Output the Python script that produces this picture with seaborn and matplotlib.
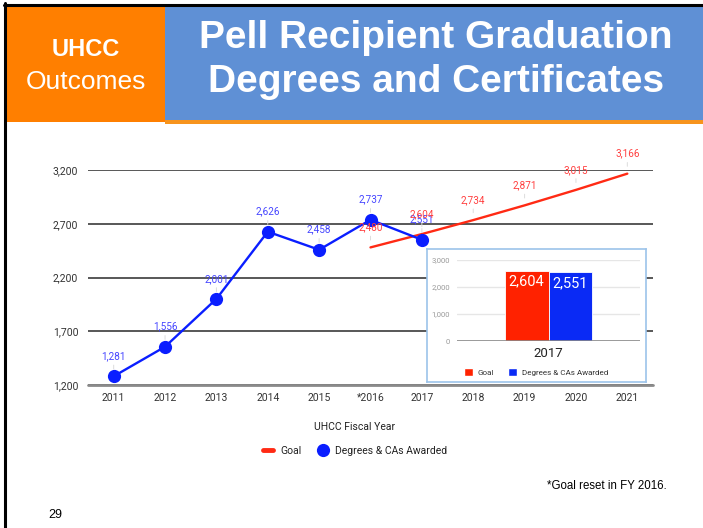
import matplotlib
matplotlib.use("Agg")
import matplotlib.pyplot as plt
import seaborn as sns
import pandas as pd
from matplotlib.lines import Line2D
from matplotlib.patches import Rectangle, Patch
from matplotlib import font_manager as fm
from matplotlib.ticker import FuncFormatter

# ---------------- data ----------------
years = ["2011", "2012", "2013", "2014", "2015", "*2016", "2017", "2018", "2019", "2020", "2021"]
awarded_years = ["2011", "2012", "2013", "2014", "2015", "*2016", "2017"]
awarded = [1281, 1556, 2001, 2626, 2458, 2737, 2551]
goal_years = ["*2016", "2017", "2018", "2019", "2020", "2021"]
goal = [2480, 2604, 2734, 2871, 3015, 3166]
y_ticks = [1200, 1700, 2200, 2700, 3200]

inset_category = "2017"
inset_series = ["Goal", "Degrees & CAs Awarded"]
inset_values = [2604, 2551]
inset_ticks = [0, 1000, 2000, 3000]

legend_labels = ["Goal", "Degrees & CAs Awarded"]

# ---------------- style ----------------
sns.set_theme(style="white")


def pick(name, fallback):
    try:
        fm.findfont(fm.FontProperties(family=name), fallback_to_default=False)
        return name
    except Exception:
        return fallback


ROBOTO = pick("Roboto", "DejaVu Sans")
ARIAL = pick("Liberation Sans", "DejaVu Sans")
NARROW = pick("Liberation Sans Narrow", ARIAL)
plt.rcParams["font.family"] = [ROBOTO, "DejaVu Sans"]

RED = "#ff2a14"
BLUE = "#0a1eff"
RED_TXT = "#ff4040"
BLUE_TXT = "#4646ff"
INSET_RED = "#ff2200"
INSET_BLUE = "#0a2af5"

W, H = 703, 528
fig = plt.figure(figsize=(W / 100, H / 100), dpi=100)
fig.patch.set_facecolor("white")


def fr(x0, y0, x1, y1):
    return [x0 / W, 1 - y1 / H, (x1 - x0) / W, (y1 - y0) / H]


def fx(x):
    return x / W


def fy(y):
    return 1 - y / H


# ---------------- header ----------------
def rect(x0, y0, x1, y1, color, z=0):
    fig.patches.append(Rectangle((fx(x0), fy(y1)), fx(x1) - fx(x0), fy(y0) - fy(y1),
                                 transform=fig.transFigure, facecolor=color,
                                 edgecolor="none", zorder=z))


rect(165, 6, 703, 120, "#5f90d5")
rect(7, 6, 165, 122, "#ff7f00")
rect(165, 120, 703, 124, "#f7941d")
fig.add_artist(Line2D([fx(5), fx(5)], [fy(3), 0], transform=fig.transFigure,
                      color="black", lw=2.2))
fig.add_artist(Line2D([fx(4), 1], [fy(4.5), fy(4.5)], transform=fig.transFigure,
                      color="black", lw=2.2))

fig.text(fx(86), fy(49), "UHCC", ha="center", va="center", color="white",
         family=ARIAL, fontweight="bold", fontsize=17)
fig.text(fx(86), fy(82), "Outcomes", ha="center", va="center", color="white",
         family=ARIAL, fontsize=19)
fig.text(fx(436), fy(38), "Pell Recipient Graduation", ha="center", va="center",
         color="white", family=NARROW, fontweight="bold", fontsize=28)
fig.text(fx(436), fy(82), "Degrees and Certificates", ha="center", va="center",
         color="white", family=NARROW, fontweight="bold", fontsize=28)

# ---------------- main chart ----------------
ax = fig.add_axes(fr(88, 170, 653, 385))
ax.set_facecolor("none")
df_aw = pd.DataFrame({"x": [years.index(y) for y in awarded_years], "v": awarded})
df_goal = pd.DataFrame({"x": [years.index(y) for y in goal_years], "v": goal})

sns.lineplot(data=df_goal, x="x", y="v", color=RED, lw=1.7, ax=ax, zorder=3)
sns.lineplot(data=df_aw, x="x", y="v", color=BLUE, lw=1.7, marker="o",
             markersize=9.5, markeredgewidth=0, ax=ax, zorder=4)

ax.set_xlim(-0.5, len(years) - 0.5)
ax.set_ylim(y_ticks[0], y_ticks[-1])
ax.set_yticks(y_ticks)
ax.yaxis.set_major_formatter(FuncFormatter(lambda v, p: f"{int(v):,}"))
ax.set_xticks(range(len(years)))
ax.set_xticklabels(years)
ax.grid(axis="y", color="#4a4a4a", lw=1.3)
ax.grid(axis="x", visible=False)
for s in ax.spines.values():
    s.set_visible(False)
ax.tick_params(axis="both", length=0, labelsize=7.5, colors="#333333")
ax.tick_params(axis="y", pad=7)
ax.tick_params(axis="x", pad=6)
ax.set_xlabel("")
ax.set_ylabel("")
ax.axhline(y_ticks[0], color="#8a8a8a", lw=2, zorder=2, clip_on=False)


def label_points(xs, vs, color):
    for x, v in zip(xs, vs):
        ax.annotate(f"{v:,}", (x, v), xytext=(0, 14.5), textcoords="offset points",
                    ha="center", va="center", fontsize=7.2, color=color,
                    annotation_clip=False, zorder=6,
                    arrowprops=dict(arrowstyle="-", color="#dcdcdc", lw=0.7,
                                    shrinkA=0.5, shrinkB=5.3))


label_points(df_aw["x"], df_aw["v"], BLUE_TXT)
label_points(df_goal["x"], df_goal["v"], RED_TXT)

fig.text(fx(355), fy(427), "UHCC Fiscal Year", ha="center", va="center",
         fontsize=7.5, color="#222222")
handles = [Line2D([0], [0], color=RED, lw=3.5),
           Line2D([0], [0], color=BLUE, lw=0, marker="o", markersize=9.5,
                  markeredgewidth=0)]
fig.legend(handles, legend_labels, loc="center", bbox_to_anchor=(fx(355), fy(451)),
           ncol=2, frameon=False, fontsize=7.5, handlelength=0.9,
           columnspacing=1.6, handletextpad=0.7, labelcolor="#222222")

# ---------------- inset ----------------
frame = fig.add_axes(fr(427, 249, 646, 382), zorder=5)
frame.set_facecolor("white")
frame.set_xticks([])
frame.set_yticks([])
for s in frame.spines.values():
    s.set_color("#9cc3ea")
    s.set_linewidth(1.2)

axi = fig.add_axes(fr(457, 260, 640, 341), zorder=6)
axi.set_facecolor("none")
df_in = pd.DataFrame({"cat": [inset_category] * len(inset_series),
                      "series": inset_series, "val": inset_values})
sns.barplot(data=df_in, x="cat", y="val", hue="series", hue_order=inset_series,
            palette=[INSET_RED, INSET_BLUE], saturation=1, width=0.48,
            edgecolor="white", linewidth=0.6, legend=False, ax=axi, zorder=3)
axi.set_xlim(-0.5, 0.5)
axi.set_ylim(inset_ticks[0], inset_ticks[-1])
axi.set_yticks(inset_ticks)
axi.yaxis.set_major_formatter(FuncFormatter(lambda v, p: f"{int(v):,}"))
axi.grid(axis="y", color="#e6e6e6", lw=1)
axi.grid(axis="x", visible=False)
for s in axi.spines.values():
    s.set_visible(False)
axi.axhline(0, color="#8a8a8a", lw=1.2, zorder=4)
axi.tick_params(axis="y", length=0, labelsize=5.5, colors="#999999", pad=5)
axi.tick_params(axis="x", length=0, labelsize=9.5, colors="#222222", pad=4)
axi.set_xlabel("")
axi.set_ylabel("")
for cont, v in zip(axi.containers, inset_values):
    axi.bar_label(cont, labels=[f"{v:,}"], padding=-13, color="white", fontsize=10.5)

inset_handles = [Patch(facecolor=INSET_RED), Patch(facecolor=INSET_BLUE)]
frame.legend(inset_handles, inset_series, loc="center",
             bbox_to_anchor=(fx(536), fy(372)), bbox_transform=fig.transFigure,
             ncol=2, frameon=False, fontsize=5.8, handlelength=1.1, handleheight=1.1,
             columnspacing=1.8, handletextpad=0.6, labelcolor="#333333")

# ---------------- footnotes ----------------
fig.text(fx(667), fy(486), "*Goal reset in FY 2016.", ha="right", va="center",
         family=ARIAL, fontsize=8.3, color="black")
fig.text(fx(48), fy(515), "29", ha="left", va="center", family=ARIAL,
         fontsize=9, color="black")

fig.savefig("out.png", dpi=100)
